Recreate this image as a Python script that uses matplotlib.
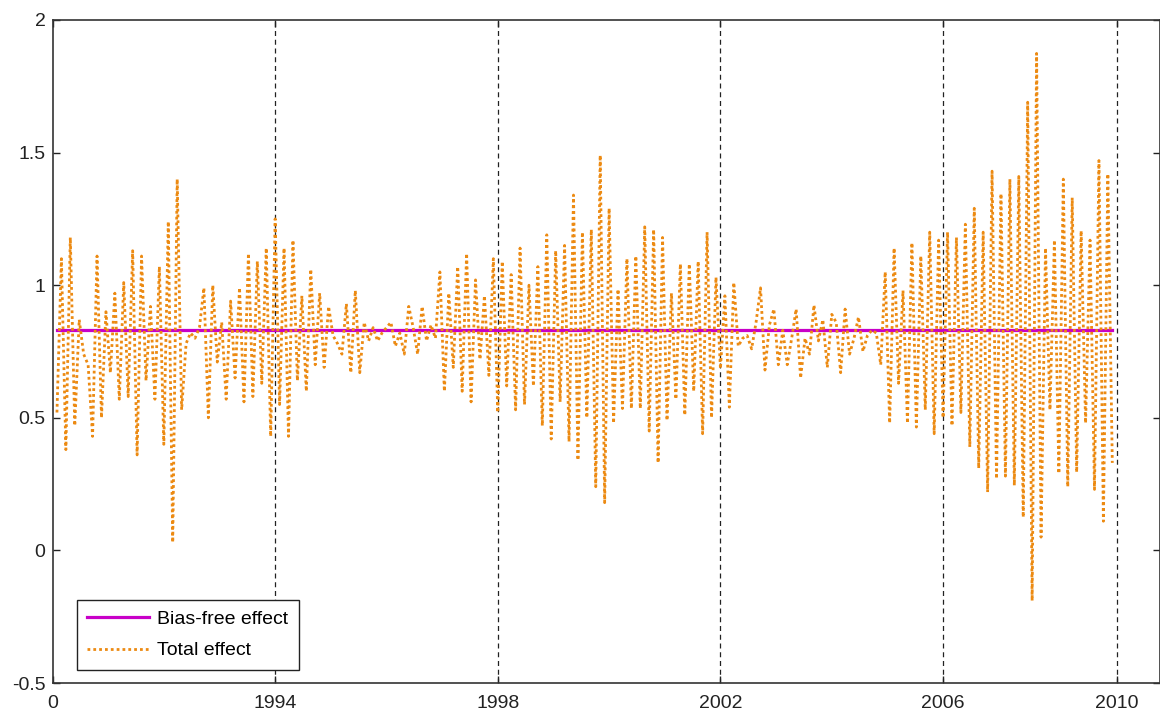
import numpy as np
import matplotlib
matplotlib.use("Agg")
import matplotlib.pyplot as plt

# total effect, one value per period
total_effect = [
    0.52, 1.10, 0.38, 1.18, 0.47, 0.87, 0.74, 0.70, 0.43, 1.11,
    0.50, 0.90, 0.67, 0.97, 0.57, 1.01, 0.58, 1.13, 0.36, 1.11,
    0.64, 0.92, 0.57, 1.07, 0.40, 1.24, 0.03, 1.40, 0.53, 0.78,
    0.82, 0.80, 0.84, 0.99, 0.50, 1.00, 0.71, 0.86, 0.57, 0.94,
    0.65, 0.99, 0.56, 1.12, 0.58, 1.09, 0.63, 1.14, 0.43, 1.25,
    0.55, 1.14, 0.43, 1.17, 0.64, 0.96, 0.60, 1.06, 0.70, 0.97,
    0.69, 0.92, 0.81, 0.78, 0.74, 0.93, 0.67, 0.98, 0.67, 0.86,
    0.79, 0.84, 0.79, 0.82, 0.84, 0.86, 0.77, 0.82, 0.74, 0.92,
    0.84, 0.74, 0.92, 0.79, 0.85, 0.80, 1.05, 0.60, 0.97, 0.69,
    1.07, 0.60, 1.12, 0.56, 1.02, 0.72, 0.96, 0.66, 1.10, 0.52,
    1.09, 0.62, 1.04, 0.53, 1.14, 0.55, 1.00, 0.62, 1.07, 0.47,
    1.19, 0.42, 1.13, 0.56, 1.15, 0.41, 1.34, 0.34, 1.20, 0.50,
    1.21, 0.24, 1.49, 0.18, 1.29, 0.48, 0.985, 0.535, 1.10, 0.535,
    1.11, 0.535, 1.22, 0.45, 1.21, 0.33, 1.18, 0.49, 0.97, 0.57,
    1.08, 0.51, 1.08, 0.60, 1.09, 0.44, 1.20, 0.50, 1.03, 0.685,
    0.96, 0.54, 1.01, 0.77, 0.80, 0.81, 0.76, 0.86, 0.99, 0.68,
    0.85, 0.91, 0.70, 0.83, 0.70, 0.80, 0.91, 0.65, 0.80, 0.74,
    0.925, 0.79, 0.87, 0.69, 0.89, 0.86, 0.67, 0.91, 0.74, 0.80,
    0.88, 0.75, 0.81, 0.83, 0.82, 0.70, 1.05, 0.48, 1.14, 0.63,
    0.98, 0.48, 1.16, 0.465, 1.11, 0.53, 1.20, 0.44, 1.17, 0.50,
    1.20, 0.47, 1.18, 0.52, 1.23, 0.39, 1.29, 0.31, 1.20, 0.22,
    1.43, 0.27, 1.345, 0.28, 1.40, 0.245, 1.41, 0.125, 1.69, -0.19,
    1.874, 0.05, 1.14, 0.53, 1.17, 0.29, 1.40, 0.24, 1.33, 0.295,
    1.205, 0.48, 1.17, 0.23, 1.47, 0.11, 1.42, 0.33,
]
bias_free_level = 0.83

tick_pos = [0, 50, 100, 150, 200, 239]
tick_labels = ['0', '1994', '1998', '2002', '2006', '2010']
ytick_pos = [-0.5, 0, 0.5, 1, 1.5, 2]
ytick_labels = ['-0.5', '0', '0.5', '1', '1.5', '2']

plt.rcParams['font.family'] = ['Liberation Sans', 'DejaVu Sans']

t = np.arange(1, len(total_effect) + 1)
bias_free = np.full(len(t), bias_free_level)

fig = plt.figure(figsize=(11.6, 7.15), dpi=100)
ax = fig.add_axes([52.5 / 1160, 32 / 715, 1107 / 1160, 663 / 715])

ax.plot(t, bias_free, '-', color='#C800C8', lw=2.3, label='Bias-free effect')
ax.plot(t, total_effect, color='#EC8A12', lw=2.0, linestyle=(0, (1, 1.1)),
        label='Total effect')

# dashed vertical grid at the year ticks
for xp in tick_pos[1:]:
    ax.axvline(xp, color='#222222', lw=0.9, linestyle=(0, (4, 3)), zorder=0)

ax.set_xlim(0, 248.6)
ax.set_ylim(-0.5, 2)
ax.set_xticks(tick_pos)
ax.set_xticklabels(tick_labels)
ax.set_yticks(ytick_pos)
ax.set_yticklabels(ytick_labels)
ax.tick_params(direction='in', length=5, width=1, top=True, right=True,
               labelsize=14, colors='#222222')
ax.tick_params(axis='x', pad=9)
ax.tick_params(axis='y', pad=5)
for s in ax.spines.values():
    s.set_linewidth(1.2)
    s.set_color('#333333')

leg = ax.legend(loc='lower left', bbox_to_anchor=(0.0217, 0.0196),
                borderaxespad=0, fontsize=14, handlelength=3.2,
                handletextpad=0.4, labelspacing=0.7, borderpad=0.55,
                fancybox=False, framealpha=1, edgecolor='#222222')
leg.get_frame().set_linewidth(1.0)

fig.savefig('out.png', dpi=100)
